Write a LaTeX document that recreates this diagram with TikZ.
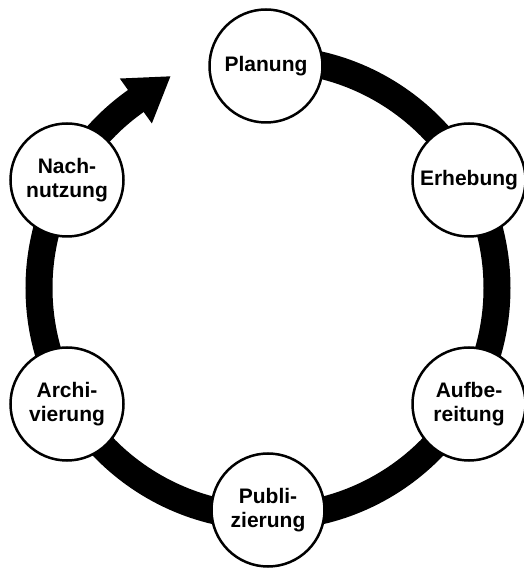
\documentclass[tikz,border=0pt]{standalone}
\usepackage{fontspec}
\setmainfont{Liberation Sans}
\usetikzlibrary{arrows.meta}
\begin{document}
\begin{tikzpicture}[x=1pt,y=1pt,
  stage/.style={circle,draw=black,line width=2.5pt,fill=white,
    minimum size=113pt,inner sep=0pt,align=center,
    font=\fontsize{21}{24}\selectfont\bfseries},
  cycle/.style={line width=27pt,draw=black}]
\useasboundingbox (0,0) rectangle (523,568);
% the cycle ring, running clockwise from Planung and ending in an arrow
\coordinate (start) at (268,509);
\draw[cycle,-{Triangle[length=43pt,width=52pt]}]
  (start) arc[start angle=90,end angle=-234.5,radius=229pt]
  coordinate (ringend) -- ++(35.5:44pt) coordinate (tip);
% stages of the cycle
\node[stage] (plan) at (266,502) {Planung};
\node[stage] (erh)  at (469,388) {Erhebung};
\node[stage] (aufb) at (469,164) {Aufbe-\\reitung};
\node[stage] (publ) at (268,58)  {Publi-\\zierung};
\node[stage] (arch) at (67,164)  {Archi-\\vierung};
\node[stage] (nach) at (67,388)  {Nach-\\nutzung};
\end{tikzpicture}
\end{document}
